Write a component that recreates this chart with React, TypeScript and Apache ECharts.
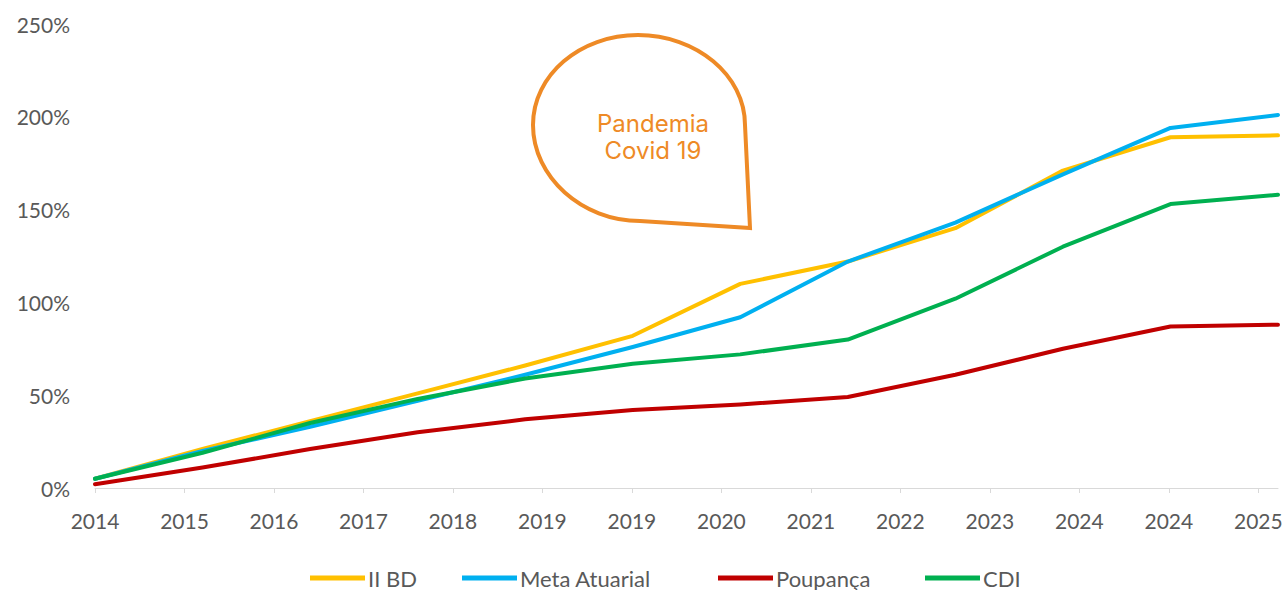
import React, { useEffect, useRef } from "react";
import * as echarts from "echarts";

const xLabels = ["2014", "2015", "2016", "2017", "2018", "2019", "2019", "2020", "2021", "2022", "2023", "2024", "2024", "2025"];
const points = ["p1", "p2", "p3", "p4", "p5", "p6", "p7", "p8", "p9", "p10", "p11", "p12"];
const iiBD = [5, 21, 36, 51, 66, 82, 110, 122, 140, 171, 189, 190];
const metaAtuarial = [5, 20, 33, 47, 61, 76, 92, 122, 143, 169, 194, 201];
const poupanca = [2, 11, 21, 30, 37, 42, 45, 49, 61, 75, 87, 88];
const cdi = [5, 19, 35, 48, 59, 67, 72, 80, 102, 130, 153, 158];
const seriesNames = ["II BD", "Meta Atuarial", "Poupança", "CDI"];
const seriesColors = ["#FFC000", "#00B0F0", "#C00000", "#00B050"];
const yTicks = { min: 0, max: 250, interval: 50 };

const bubblePath =
  "M 750 228 L 640 221 C 582 221 533 177 533 125 C 533 75 580 35 638 35 C 696 35 745 75 745 125 L 750 228 Z";
echarts.graphic.registerShape("bubble", echarts.graphic.extendPath(bubblePath, {}));

const FONT = "Lato, 'Open Sans', sans-serif";
const GRAY = "#595959";
const legendLefts = [310, 462, 718, 925];

export default function App() {
  const ref = useRef<HTMLDivElement>(null);
  useEffect(() => {
    document.body.style.margin = "0";
    const chart = echarts.init(ref.current!, null, { renderer: "svg" });
    const seriesData = [iiBD, metaAtuarial, poupanca, cdi];
    chart.setOption({
      animation: false,
      textStyle: { fontFamily: FONT },
      grid: { left: 95, right: 10, top: 24, bottom: 102, containLabel: false },
      xAxis: [
        { type: "category", data: points, boundaryGap: false, show: false },
        {
          type: "value",
          min: 0,
          max: 13.22,
          position: "bottom",
          splitLine: { show: false },
          axisLine: { show: true, lineStyle: { color: "#D9D9D9", width: 1 } },
          axisTick: {
            show: true,
            length: 5,
            lineStyle: { color: "#D9D9D9" },
            customValues: xLabels.map((_, i) => i),
          },
          axisLabel: {
            customValues: xLabels.map((_, i) => i),
            formatter: (v: number) => xLabels[Math.round(v)] ?? "",
            color: GRAY,
            fontSize: 21,
            fontFamily: FONT,
            margin: 22,
          },
        },
      ],
      yAxis: {
        type: "value",
        min: yTicks.min,
        max: yTicks.max,
        interval: yTicks.interval,
        splitLine: { show: false },
        axisLine: { show: false },
        axisTick: { show: false },
        axisLabel: { formatter: "{value}%", color: GRAY, fontSize: 21, fontFamily: FONT, margin: 25 },
      },
      legend: seriesNames.map((n, i) => ({
        left: legendLefts[i],
        top: 567,
        padding: 0,
        icon: "rect",
        itemWidth: 55,
        itemHeight: 5,
        textStyle: { color: GRAY, fontSize: 22, fontFamily: FONT, padding: [0, 0, 0, -2] },
        data: [n],
      })),
      series: seriesNames.map((n, i) => ({
        name: n,
        type: "line",
        data: seriesData[i],
        xAxisIndex: 0,
        showSymbol: false,
        symbol: "none",
        lineStyle: { color: seriesColors[i], width: 4, cap: "round", join: "round" },
        itemStyle: { color: seriesColors[i] },
      })),
      graphic: [
        {
          type: "bubble",
          x: 0,
          y: 0,
          style: { fill: "none", stroke: "#EE8A26", lineWidth: 4 },
          z: 100,
        },
        {
          type: "text",
          x: 653,
          y: 137,
          z: 101,
          style: {
            text: "Pandemia\nCovid 19",
            fill: "#EE8A26",
            fontSize: 24,
            fontFamily: "Inter, 'Open Sans', sans-serif",
            align: "center",
            verticalAlign: "middle",
            lineHeight: 27,
          },
        },
      ],
    });
    return () => chart.dispose();
  }, []);
  return <div ref={ref} style={{ width: 1288, height: 590 }} />;
}
